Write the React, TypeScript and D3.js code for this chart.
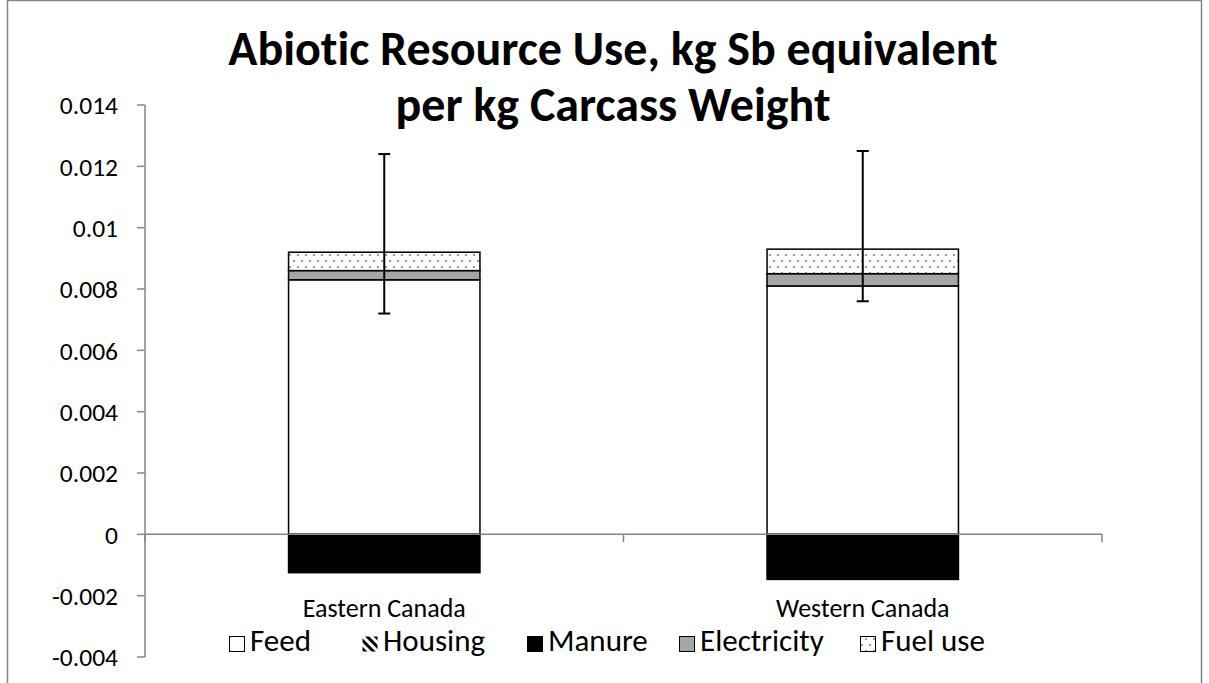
import React from 'react';
import * as d3 from 'd3';

const categories = ['Eastern Canada', 'Western Canada'];
const seriesNames = ['Feed', 'Housing', 'Manure', 'Electricity', 'Fuel use'];
const feed = [0.0083, 0.0081];
const housing = [0, 0];
const manure = [-0.00125, -0.00147];
const electricity = [0.0003, 0.0004];
const fuelUse = [0.0006, 0.0008];
const errHigh = [0.0124, 0.0125];
const errLow = [0.0072, 0.0076];
const yTicks = [-0.004, -0.002, 0, 0.002, 0.004, 0.006, 0.008, 0.01, 0.012, 0.014];
const titleLines = ['Abiotic Resource Use, kg Sb equivalent', 'per kg Carcass Weight'];

const W = 1209;
const H = 683;
const font = "Carlito, Calibri, Lato, 'Open Sans', sans-serif";
const axisColor = '#868686';
const noLig = { fontVariantLigatures: 'none' } as React.CSSProperties;

const fills: Record<string, string> = {
  Feed: '#ffffff',
  Housing: 'url(#housing)',
  Manure: '#000000',
  Electricity: '#a6a6a6',
  'Fuel use': 'url(#dots)',
};

export default function App() {
  const x = d3.scaleBand<string>().domain(categories).range([145, 1102]).paddingInner(0.6).paddingOuter(0.3);
  const y = d3.scaleLinear().domain([-0.004, 0.014]).range([657, 105]);

  const rows = categories.map((c, i) => ({
    cat: c,
    Feed: feed[i],
    Housing: housing[i],
    Manure: manure[i],
    Electricity: electricity[i],
    'Fuel use': fuelUse[i],
  }));
  const stack = d3.stack<any>().keys(seriesNames).offset(d3.stackOffsetDiverging);
  const layers = stack(rows);

  // where each legend label starts
  const legendTextX = [250, 383, 548, 700, 881];
  const fmt = (v: number) => String(+v.toFixed(3));

  return (
    <svg width={W} height={H} style={{ position: 'absolute', left: 0, top: 0, background: '#fff' }}>
      <defs>
        <pattern id="dots" width={8} height={12} patternUnits="userSpaceOnUse">
          <rect width={8} height={12} fill="#fff" />
          <rect x={1} y={2} width={2} height={2} fill="#999" />
          <rect x={5} y={8} width={2} height={2} fill="#999" />
        </pattern>
        <pattern id="housing" width={6} height={6} patternUnits="userSpaceOnUse" patternTransform="rotate(-45)">
          <rect width={6} height={6} fill="#fff" />
          <rect width={3} height={6} fill="#000" />
        </pattern>
      </defs>
      <rect x={7.5} y={0.5} width={1194} height={700} fill="#fff" stroke={axisColor} strokeWidth={1.5} />

      {titleLines.map((t, i) => (
        <text key={t} x={613} y={65 + i * 56} textAnchor="middle" fontFamily={font} fontWeight="bold" fontSize={48} fill="#000" style={noLig}>
          {t}
        </text>
      ))}

      {/* y axis */}
      <line x1={145} x2={145} y1={y(0.014)} y2={y(-0.004)} stroke={axisColor} strokeWidth={1.5} />
      {yTicks.map(t => (
        <g key={t}>
          <line x1={137} x2={145} y1={y(t)} y2={y(t)} stroke={axisColor} strokeWidth={1.5} />
          <text x={118} y={y(t)} dy="0.36em" textAnchor="end" fontFamily={font} fontSize={25.5} fill="#000">
            {fmt(t)}
          </text>
        </g>
      ))}

      {/* bars */}
      {layers.map(layer =>
        layer.map((d, i) =>
          d[1] - d[0] === 0 ? null : (
            <rect
              key={layer.key + i}
              x={x(categories[i])}
              width={x.bandwidth()}
              y={y(d[1])}
              height={y(d[0]) - y(d[1])}
              fill={fills[layer.key]}
              stroke="#000"
              strokeWidth={1.5}
            />
          )
        )
      )}

      {/* x axis */}
      <line x1={145} x2={1102} y1={y(0)} y2={y(0)} stroke={axisColor} strokeWidth={1.5} />
      {[0, 1, 2].map(k => {
        const xx = 145 + k * x.step();
        return <line key={k} x1={xx} x2={xx} y1={y(0)} y2={y(0) + 8} stroke={axisColor} strokeWidth={1.5} />;
      })}

      {/* error bars */}
      {categories.map((c, i) => {
        const cx = (x(c) as number) + x.bandwidth() / 2;
        return (
          <g key={c} stroke="#000" strokeWidth={2}>
            <line x1={cx} x2={cx} y1={y(errHigh[i])} y2={y(errLow[i])} />
            <line x1={cx - 6} x2={cx + 6} y1={y(errHigh[i])} y2={y(errHigh[i])} />
            <line x1={cx - 6} x2={cx + 6} y1={y(errLow[i])} y2={y(errLow[i])} />
          </g>
        );
      })}

      {categories.map(c => (
        <text key={c} x={(x(c) as number) + x.bandwidth() / 2} y={617} textAnchor="middle" fontFamily={font} fontSize={26} fill="#000">
          {c}
        </text>
      ))}

      {/* legend */}
      {seriesNames.map((s, i) => (
        <g key={s}>
          <rect x={legendTextX[i] - 20.5} y={636.5} width={15} height={15} fill={fills[s]} stroke={s === 'Housing' ? 'none' : '#000'} strokeWidth={1} />
          <text x={legendTextX[i]} y={651} fontFamily={font} fontSize={31} fill="#000">
            {s}
          </text>
        </g>
      ))}
    </svg>
  );
}
